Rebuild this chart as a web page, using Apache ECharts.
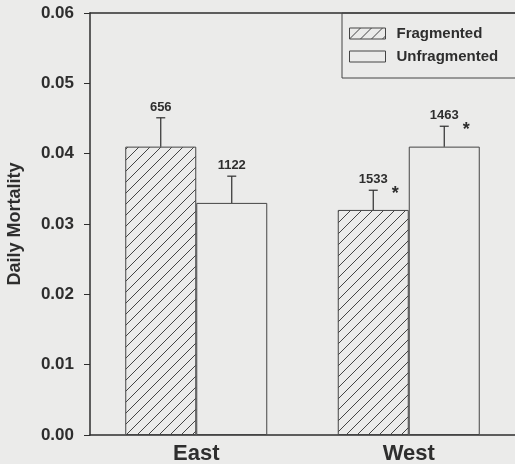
<!DOCTYPE html>
<html>
<head>
<meta charset="utf-8">
<script src="https://cdn.jsdelivr.net/npm/echarts@6/dist/echarts.min.js"></script>
<style>
  html, body { margin: 0; padding: 0; background: #ebebea; }
  #chart { width: 515px; height: 464px; }
</style>
</head>
<body>
<div id="chart"></div>
<script>
// data
var categories = ['East', 'West'];
var fragmented = [0.041, 0.032];
var unfragmented = [0.033, 0.041];
var fragmentedErrTop = [0.0451, 0.0348];
var unfragmentedErrTop = [0.0368, 0.0439];
var fragmentedN = ['656', '1533'];
var unfragmentedN = ['1122', '1463'];
var fragmentedSig = [false, true];
var unfragmentedSig = [false, true];

var ink = '#2e2e2e';
var font = 'Liberation Sans, Arial, sans-serif';
var barW = 71;

// diagonal hatch
function hatch() {
  var s = 11;
  var cv = document.createElement('canvas');
  cv.width = s; cv.height = s;
  var ctx = cv.getContext('2d');
  ctx.fillStyle = '#ebebea';
  ctx.fillRect(0, 0, s, s);
  ctx.strokeStyle = '#444';
  ctx.lineWidth = 1;
  ctx.beginPath();
  ctx.moveTo(-1, s + 1); ctx.lineTo(s + 1, -1);
  ctx.moveTo(-1, 1); ctx.lineTo(1, -1);
  ctx.moveTo(s - 1, s + 1); ctx.lineTo(s + 1, s - 1);
  ctx.stroke();
  return cv;
}

// error bars + sample size labels
var errData = [];
categories.forEach(function (c, i) {
  errData.push([i, fragmented[i], fragmentedErrTop[i], -1, fragmentedN[i], fragmentedSig[i] ? 1 : 0]);
  errData.push([i, unfragmented[i], unfragmentedErrTop[i], 1, unfragmentedN[i], unfragmentedSig[i] ? 1 : 0]);
});

function renderErr(params, api) {
  var p = api.coord([api.value(0), api.value(1)]);
  var e = api.coord([api.value(0), api.value(2)]);
  var x = p[0] + api.value(3) * barW / 2;
  var st = { stroke: ink, lineWidth: 1.2 };
  var children = [
    { type: 'line', shape: { x1: x, y1: p[1], x2: x, y2: e[1] }, style: st },
    { type: 'line', shape: { x1: x - 4.5, y1: e[1], x2: x + 4.5, y2: e[1] }, style: st },
    { type: 'text', style: { x: x, y: e[1] - 4, text: errData[params.dataIndex][4], fill: ink,
        font: 'bold 13px ' + font, textAlign: 'center', textVerticalAlign: 'bottom' } }
  ];
  if (api.value(5)) {
    children.push({ type: 'text', style: { x: x + 22, y: e[1] + 4, text: '*', fill: ink,
      font: 'bold 18px ' + font, textAlign: 'center', textVerticalAlign: 'middle' } });
  }
  return { type: 'group', children: children };
}

var myChart = echarts.init(document.getElementById('chart'));
var option = {
  backgroundColor: '#ebebea',
  animation: false,
  textStyle: { fontFamily: font },
  grid: { left: 90, right: 0, top: 13, bottom: 29, outerBoundsMode: 'none', containLabel: false },
  legend: {
    data: ['Fragmented', 'Unfragmented'],
    orient: 'vertical',
    left: 342, top: 13,
    itemWidth: 36, itemHeight: 11, itemGap: 8,
    padding: [13, 30, 14, 7],
    borderColor: '#444', borderWidth: 1,
    icon: 'rect',
    itemStyle: { borderColor: '#444', borderWidth: 1 },
    textStyle: { color: ink, fontSize: 15, fontWeight: 'bold', fontFamily: font, padding: [0, 0, 0, 6] }
  },
  xAxis: [{
    type: 'category',
    data: categories,
    axisLine: { lineStyle: { color: ink, width: 1.5 } },
    axisTick: { show: false },
    axisLabel: { color: ink, fontSize: 22, fontWeight: 'bold', margin: 8 }
  }, {
    type: 'category',
    position: 'top',
    data: categories,
    axisLine: { lineStyle: { color: ink, width: 1.5 } },
    axisTick: { show: false },
    axisLabel: { show: false }
  }],
  yAxis: {
    type: 'value',
    min: 0, max: 0.06, interval: 0.01,
    name: 'Daily Mortality',
    nameLocation: 'middle',
    nameGap: 66,
    nameTextStyle: { color: ink, fontSize: 18, fontWeight: 'bold' },
    axisLine: { show: true, lineStyle: { color: ink, width: 1.5 } },
    axisTick: { show: true, length: 6, lineStyle: { color: ink } },
    axisLabel: { color: ink, fontSize: 17, fontWeight: 'bold', margin: 16,
      formatter: function (v) { return v.toFixed(2); } },
    splitLine: { show: false }
  },
  series: [{
    name: 'Fragmented',
    type: 'bar',
    data: fragmented,
    barWidth: barW,
    barGap: '0%',
    itemStyle: { color: { image: hatch(), repeat: 'repeat' }, borderColor: '#444', borderWidth: 1 }
  }, {
    name: 'Unfragmented',
    type: 'bar',
    data: unfragmented,
    barWidth: barW,
    barGap: '0%',
    itemStyle: { color: '#ebebea', borderColor: '#444', borderWidth: 1 }
  }, {
    type: 'custom',
    renderItem: renderErr,
    data: errData,
    z: 5
  }]
};
option && myChart.setOption(option);
</script>
</body>
</html>
